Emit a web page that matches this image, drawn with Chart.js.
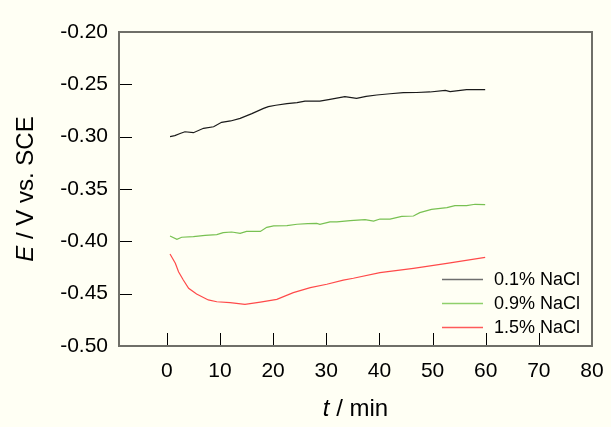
<!DOCTYPE html>
<html>
<head>
<meta charset="utf-8">
<script src="https://cdn.jsdelivr.net/npm/chart.js@4"></script>
<style>
  html, body { margin: 0; padding: 0; background: #fffff4; }
  #wrap { width: 611px; height: 427px; }
</style>
</head>
<body>
<div id="wrap"><canvas id="potChart" width="611" height="427"></canvas></div>
<script>
// series names
const seriesNames = ['0.1% NaCl', '0.9% NaCl', '1.5% NaCl'];

// 0.1% NaCl
const tBlack = [0.6, 1.5, 2.5, 3.4, 5.0, 6.9, 8.8, 10.3, 12, 13.8, 16, 18.2, 19.1, 20.5, 22.6, 24.5, 26, 28.8, 30.7, 33.5, 35.7, 37.5, 39.5, 42, 44.5, 47, 49.5, 52.4, 53.3, 56.4, 59.9];
const eBlack = [-0.300, -0.299, -0.297, -0.2953, -0.2962, -0.292, -0.2905, -0.2863, -0.285, -0.2825, -0.278, -0.273, -0.2713, -0.270, -0.2685, -0.2675, -0.266, -0.266, -0.2643, -0.2618, -0.2634, -0.2615, -0.2602, -0.259, -0.258, -0.2578, -0.2573, -0.2557, -0.257, -0.2551, -0.2551];

// 0.9% NaCl
const tGreen = [0.6, 1.9, 2.8, 5, 7.2, 9.4, 10.6, 12.2, 13.8, 15, 17.6, 18.8, 20.1, 22.6, 24.5, 26.5, 28.2, 28.8, 30.7, 32, 34.5, 37.3, 38.9, 40.1, 42, 44.2, 46.4, 47.6, 49.8, 52.7, 54.2, 56.4, 58, 59.9];
const eGreen = [-0.3949, -0.398, -0.3961, -0.3955, -0.3943, -0.3936, -0.3917, -0.3911, -0.3923, -0.3905, -0.3905, -0.3866, -0.3853, -0.385, -0.3837, -0.383, -0.3828, -0.3837, -0.3815, -0.3815, -0.3803, -0.3793, -0.3806, -0.3787, -0.3787, -0.3761, -0.3758, -0.3726, -0.3694, -0.3678, -0.3659, -0.3659, -0.3646, -0.365];

// 1.5% NaCl
const tRed = [0.6, 1.6, 2.2, 3.1, 4.1, 5.6, 7.8, 9.4, 11.9, 14.7, 17.6, 20.7, 23.8, 27, 30.1, 33.2, 35.1, 40.1, 46.4, 52.7, 59.9];
const eRed = [-0.4121, -0.421, -0.429, -0.437, -0.4449, -0.4503, -0.456, -0.4577, -0.4586, -0.4602, -0.458, -0.4554, -0.449, -0.4443, -0.441, -0.437, -0.4353, -0.4299, -0.4258, -0.421, -0.4153];

// axis ticks
const xTicks = [0, 10, 20, 30, 40, 50, 60, 70, 80];
const yTicks = [-0.50, -0.45, -0.40, -0.35, -0.30, -0.25, -0.20];

const colors = ['#1a1a1a', '#78c152', '#ff4a4a'];
const legendColors = ['#6e6e6e', '#8fd06b', '#ff5a5a'];

function pts(ts, es) {
    return ts.map((t, i) => ({ x: t, y: es[i] }));
}

Chart.defaults.font.family = "'Liberation Sans', Arial, sans-serif";
Chart.defaults.color = '#000';

const TITLE_PX = 24;

// frame, inward ticks, axis titles and legend
const decor = {
    id: 'decor',
    beforeDraw(chart) {
        const c = chart.ctx;
        c.save();
        c.fillStyle = '#fffff4';
        c.fillRect(0, 0, chart.width, chart.height);
        c.restore();
    },
    afterDraw(chart) {
        const c = chart.ctx;
        const a = chart.chartArea;
        const xs = chart.scales.x, ys = chart.scales.y;
        c.save();
        // ticks
        c.strokeStyle = '#000';
        c.lineWidth = 1;
        c.beginPath();
        xTicks.forEach(v => {
            const px = Math.round(xs.getPixelForValue(v)) + 0.5;
            c.moveTo(px, a.bottom);
            c.lineTo(px, a.bottom - 13);
        });
        yTicks.forEach(v => {
            const py = Math.round(ys.getPixelForValue(v)) + 0.5;
            c.moveTo(a.left, py);
            c.lineTo(a.left + 13, py);
        });
        c.stroke();
        // frame
        c.strokeStyle = '#6f6f68';
        c.lineWidth = 2;
        c.strokeRect(a.left, a.top, a.right - a.left, a.bottom - a.top);

        const it = `italic ${TITLE_PX}px 'Liberation Sans', Arial`;
        const up = `${TITLE_PX}px 'Liberation Sans', Arial`;

        // x title
        c.fillStyle = '#000';
        c.textBaseline = 'middle';
        c.textAlign = 'left';
        const cx = (a.left + a.right) / 2;
        c.font = it;
        const w1 = c.measureText('t').width;
        c.font = up;
        const w2 = c.measureText(' / min').width;
        let sx = cx - (w1 + w2) / 2;
        c.font = it;
        c.fillText('t', sx, 409);
        c.font = up;
        c.fillText(' / min', sx + w1, 409);

        // y title
        c.save();
        c.translate(26, (a.top + a.bottom) / 2);
        c.rotate(-Math.PI / 2);
        c.font = it;
        const v1 = c.measureText('E').width;
        c.font = up;
        const v2 = c.measureText(' / V vs. SCE').width;
        sx = -(v1 + v2) / 2;
        c.font = it;
        c.fillText('E', sx, 0);
        c.font = up;
        c.fillText(' / V vs. SCE', sx + v1, 0);
        c.restore();

        // legend
        c.font = "18px 'Liberation Sans', Arial";
        c.textBaseline = 'middle';
        chart.data.datasets.forEach((ds, i) => {
            const y = 279 + i * 24;
            c.strokeStyle = legendColors[i];
            c.lineWidth = 1.5;
            c.beginPath();
            c.moveTo(442, y + 0.5);
            c.lineTo(483, y + 0.5);
            c.stroke();
            c.fillStyle = '#000';
            c.fillText(ds.label, 494, y + 1);
        });
        c.restore();
    }
};

const ctx = document.getElementById('potChart').getContext('2d');

const chart = new Chart(ctx, {
    type: 'line',
    data: {
        datasets: [
            { label: seriesNames[0], data: pts(tBlack, eBlack), borderColor: colors[0] },
            { label: seriesNames[1], data: pts(tGreen, eGreen), borderColor: colors[1] },
            { label: seriesNames[2], data: pts(tRed, eRed), borderColor: colors[2] }
        ]
    },
    options: {
        responsive: false,
        animation: false,
        elements: {
            line: { borderWidth: 1.2, tension: 0, fill: false },
            point: { radius: 0 }
        },
        layout: { padding: { left: 0, top: 32, right: 19, bottom: 0 } },
        plugins: {
            legend: { display: false },
            tooltip: { enabled: false }
        },
        scales: {
            x: {
                type: 'linear',
                min: -9,
                max: 80,
                grid: { display: false, drawTicks: false },
                border: { display: false },
                afterBuildTicks: s => { s.ticks = xTicks.map(v => ({ value: v })); },
                afterFit: s => { s.height = 81; s.paddingLeft = 0; s.paddingRight = 0; },
                ticks: {
                    padding: 13,
                    maxRotation: 0,
                    font: { size: 21 },
                    callback: v => String(v)
                }
            },
            y: {
                min: -0.5,
                max: -0.2,
                grid: { display: false, drawTicks: false },
                border: { display: false },
                afterBuildTicks: s => { s.ticks = yTicks.map(v => ({ value: v })); },
                afterFit: s => { s.width = 119; },
                ticks: {
                    padding: 11,
                    font: { size: 21 },
                    callback: v => v.toFixed(2)
                }
            }
        }
    },
    plugins: [decor]
});
</script>
</body>
</html>
